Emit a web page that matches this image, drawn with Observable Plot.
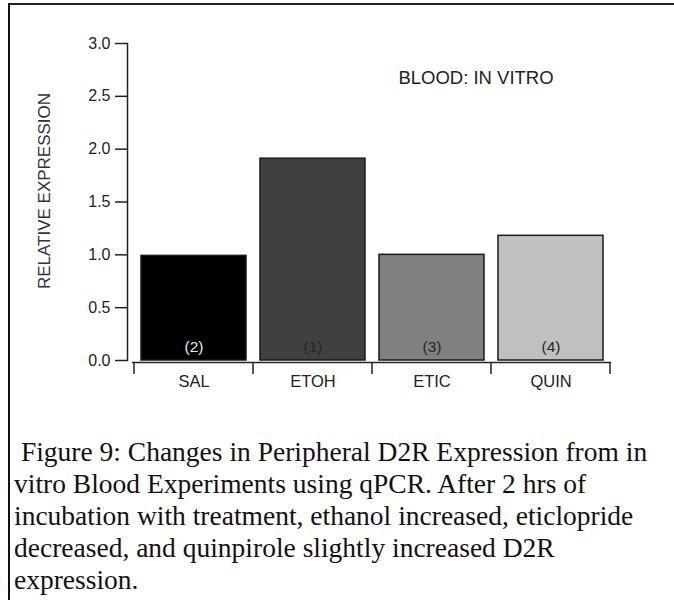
<!DOCTYPE html>
<html>
<head>
<meta charset="utf-8">
<script src="https://cdn.jsdelivr.net/npm/d3@7"></script>
<script src="https://cdn.jsdelivr.net/npm/@observablehq/plot@0.6"></script>
<style>
  html, body { margin: 0; padding: 0; background: #fff; overflow: hidden; }
  body { position: relative; width: 674px; height: 600px; }
  #topline { position: absolute; left: 8px; top: 3px; width: 720px; height: 2px; background: #222; }
  #leftline { position: absolute; left: 8px; top: 3px; width: 2px; height: 620px; background: #111; }
  #chart { position: absolute; left: 0; top: 0; }
  #caption { position: absolute; left: 14px; top: 436px; font-family: "Liberation Serif", "Times New Roman", serif;
             font-size: 27.5px; line-height: 32px; color: #111; }
  #caption div { white-space: pre; }
</style>
</head>
<body>
<div id="chart"></div>
<div id="topline"></div>
<div id="leftline"></div>
<div id="caption"></div>
<script>
// ---- data ----
const categories = ["SAL", "ETOH", "ETIC", "QUIN"];
const values = [0.99, 1.91, 1.0, 1.18];
const counts = ["(2)", "(1)", "(3)", "(4)"];
const yTicks = [0, 0.5, 1.0, 1.5, 2.0, 2.5, 3.0];
const yLabel = "RELATIVE EXPRESSION";
const panelTitle = "BLOOD: IN VITRO";
const captionLines = [
  " Figure 9: Changes in Peripheral D2R Expression from in",
  "vitro Blood Experiments using qPCR. After 2 hrs of",
  "incubation with treatment, ethanol increased, eticlopride",
  "decreased, and quinpirole slightly increased D2R",
  "expression."
];
// ---- styles ----
const barColors = ["#000000", "#404040", "#808080", "#c0c0c0"];
const font = "Liberation Sans, Arial, sans-serif";
const fmt = d3.format(".1f");

const data = categories.map((c, i) => ({cat: c, value: values[i], n: counts[i]}));

const chart = Plot.plot({
  width: 674,
  height: 400,
  marginLeft: 132,
  marginRight: 63,
  marginTop: 43,
  marginBottom: 40,
  style: {fontFamily: font, color: "#222", background: "transparent"},
  x: {domain: categories, paddingInner: 0.12, paddingOuter: 0.06, axis: null},
  y: {domain: [0, 3], axis: null},
  color: {domain: categories, range: barColors},
  marks: [
    Plot.barY(data, {x: "cat", y: "value", fill: "cat", stroke: "#1a1a1a", strokeWidth: 1.5}),
    Plot.text(data, {x: "cat", y: 0, text: "n", dy: -13, fontSize: 15.5,
      fill: d => d.cat === "SAL" ? "#e6e6e6" : "#262626"}),
    Plot.ruleY([0], {dy: 2, stroke: "#222", strokeWidth: 1.5}),
    Plot.axisY({ticks: yTicks, tickFormat: () => "", tickSize: 12, dx: -5, label: null,
      stroke: "#222", strokeWidth: 1.5}),
    Plot.text(yTicks, {y: d => d, text: d => fmt(d), frameAnchor: "left", textAnchor: "end",
      dx: -22, fontSize: 16, fill: "#222"}),
    Plot.frame({anchor: "left", dx: -5, stroke: "#222", strokeWidth: 1.5}),
    Plot.text(categories, {x: d => d, frameAnchor: "bottom", lineAnchor: "middle", dy: 21, fontSize: 16.5, fill: "#222"}),
    Plot.text([yLabel], {frameAnchor: "left", textAnchor: "middle", rotate: -90, dx: -88, dy: -11, fontSize: 17, fill: "#333"}),
    Plot.text([panelTitle], {frameAnchor: "top", dx: 104, dy: 27, fontSize: 18.5, fill: "#222"})
  ]
});

// band-boundary ticks under the x axis, from Plot's own x scale
const xs = chart.scale("x");
const ys = chart.scale("y");
const half = (xs.step - xs.bandwidth) / 2;
const bounds = categories.map(c => xs.apply(c) - half).concat([xs.apply(categories[categories.length - 1]) + xs.bandwidth + half]);
const y0 = ys.apply(0) + 2;
d3.select(chart).append("g")
  .attr("stroke", "#222").attr("stroke-width", 1.5)
  .selectAll("line").data(bounds).join("line")
  .attr("x1", d => d).attr("x2", d => d)
  .attr("y1", y0).attr("y2", y0 + 12);

document.getElementById("chart").appendChild(chart);
const cap = d3.select("#caption");
cap.selectAll("div").data(captionLines).join("div").text(d => d);
</script>
</body>
</html>
